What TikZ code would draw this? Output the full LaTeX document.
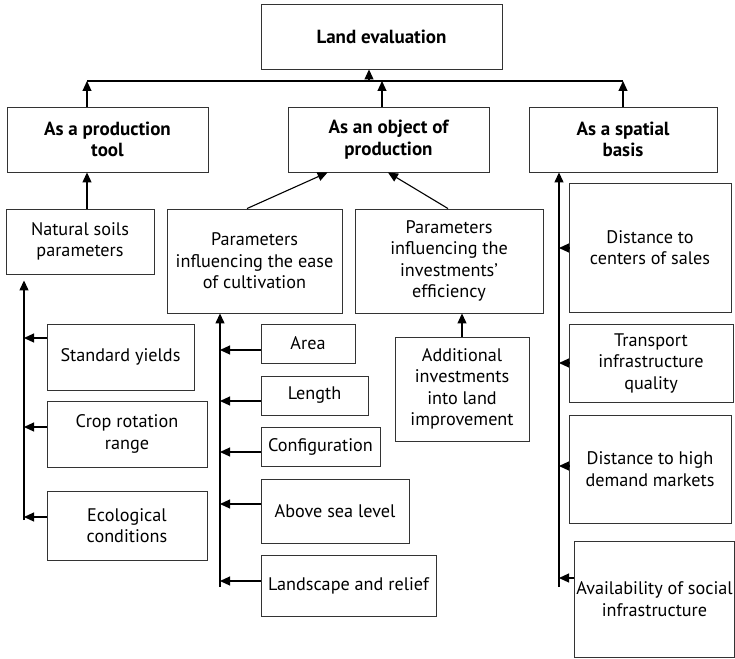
\documentclass[tikz,border=0pt]{standalone}
\usepackage{fontspec}
\setmainfont{PT Sans}
\usetikzlibrary{arrows.meta}

\begin{document}
\begin{tikzpicture}[x=1pt, y=-1pt,
    box/.style={draw=black!80, line width=0.9pt, align=center, inner sep=2pt,
      font=\fontsize{18.2}{21.5}\selectfont},
    head/.style={box, font=\fontsize{19}{21.5}\selectfont\bfseries},
    arr/.style={-{Triangle[length=10pt,width=9pt]}, line width=1.1pt},
    stem/.style={line width=1.3pt}]

    \useasboundingbox (0,0) rectangle (735,658);

    % Livelli superiori
    \node[head, minimum width=241pt, minimum height=65pt] (land) at (381.5,36.5) {Land evaluation};
    \node[head, minimum width=201pt, minimum height=65pt] (prod) at (107.5,139.5) {As a production\\tool};
    \node[head, minimum width=201pt, minimum height=65pt] (obj) at (388.5,139.5) {As an object of\\production};
    \node[head, minimum width=188pt, minimum height=65pt] (spat) at (623,139.5) {As a spatial\\basis};

    % Bus
    \coordinate (busL) at (87,81);
    \coordinate (busR) at (623,81);
    \draw[line width=1.1pt] (busL) -- (busR);
    \draw[arr] (busL -| 369,0) -- (land.south -| 369,0);
    \draw[arr] (prod.north -| busL) -- (busL);
    \draw[arr] (obj.north -| 382,0) -- (busL -| 382,0);
    \draw[arr] (spat.north) -- (busR);

    % Secondo livello
    \node[box, minimum width=148pt, minimum height=65pt] (soils) at (80,241.5) {Natural soils\\parameters};
    \node[box, minimum width=175pt, minimum height=104pt] (ease) at (254.5,261) {Parameters\\influencing the ease\\of cultivation};
    \node[box, minimum width=188pt, minimum height=104pt] (invest) at (449,261) {Parameters\\influencing the\\investments’\\efficiency};
    \node[box, minimum width=134pt, minimum height=104pt] (addit) at (462,389) {Additional\\investments\\into land\\improvement};

    \draw[arr] (soils.north -| busL) -- (prod.south -| busL);
    \draw[arr] ([xshift=-7.5pt]ease.north) -- ([xshift=40pt]obj.south west);
    \draw[arr] ([xshift=-1pt]invest.north) -- ([xshift=-0.5pt]obj.south);
    \draw[arr] (addit.north) -- (addit.north |- invest.south);

    % Colonna sinistra
    \node[box, minimum width=147pt, minimum height=66pt] (yields) at (120.5,357) {Standard yields};
    \node[box, minimum width=160pt, minimum height=66pt] (rotation) at (127,434) {Crop rotation\\range};
    \node[box, minimum width=160pt, minimum height=69pt] (ecolog) at (127,525.5) {Ecological\\conditions};

    % Colonna centrale
    \node[box, minimum width=94pt, minimum height=39pt] (area) at (308,343.5) {Area};
    \node[box, minimum width=107pt, minimum height=39pt] (length) at (314.5,395.5) {Length};
    \node[box, minimum width=119pt, minimum height=39pt] (config) at (320.5,446.5) {Configuration};
    \node[box, minimum width=148pt, minimum height=64pt] (sea) at (335,511) {Above sea level};
    \node[box, minimum width=175pt, minimum height=61pt] (landscape) at (348.5,585.5) {Landscape and relief};

    % Colonna destra
    \node[box, minimum width=162pt, minimum height=129pt] (sales) at (650,247.5) {Distance to\\centers of sales};
    \node[box, minimum width=164pt, minimum height=78pt] (transport) at (651,363) {Transport\\infrastructure\\quality};
    \node[box, minimum width=162pt, minimum height=108pt] (markets) at (650,469) {Distance to high\\demand markets};
    \node[box, minimum width=159pt, minimum height=116pt] (social) at (654.5,599) {Availability of social\\infrastructure};

    % Linee verticali
    \coordinate (lbot) at (24,520);
    \coordinate (mbot) at (220,587);
    \coordinate (rbot) at (559,587);
    \draw[arr, stem] (lbot) -- ([yshift=-6pt]soils.south -| lbot);
    \draw[arr, stem] (mbot) -- (mbot |- ease.south);
    \draw[arr, stem] (rbot) -- (rbot |- spat.south);

    % Frecce laterali
    \foreach \n/\y in {yields/338, rotation/427, ecolog/517}
      \draw[arr] (\n.west |- 0,\y) -- (lbot |- 0,\y);
    \foreach \n/\y in {area/350, length/401, config/452, sea/504, landscape/581}
      \draw[arr] (\n.west |- 0,\y) -- (mbot |- 0,\y);
    \foreach \n/\y in {sales/248, transport/363, markets/466, social/578}
      \draw[arr] (\n.west |- 0,\y) -- (rbot |- 0,\y);
  \end{tikzpicture}
\end{document}
